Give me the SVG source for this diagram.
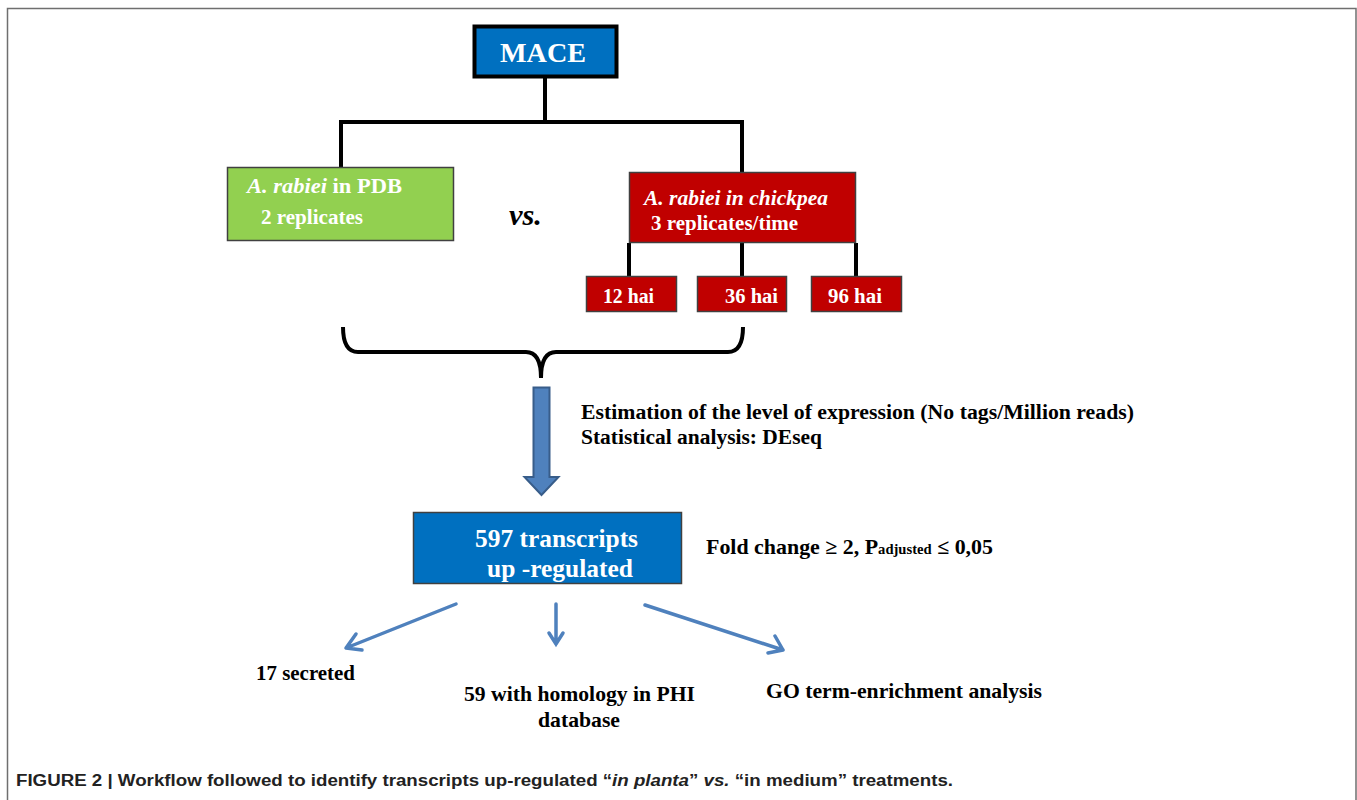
<svg xmlns="http://www.w3.org/2000/svg" width="1357" height="800" viewBox="0 0 1357 800">
<style>
.t{font-family:"Liberation Serif","Times New Roman",serif;font-weight:bold;}
.w{fill:#fff;}
.k{fill:#000;}
.blk{stroke:#000;stroke-width:4;fill:none;}
.blue-ln{stroke:#4F81BD;stroke-width:3.5;fill:none;stroke-linecap:round;}
.cap{font-family:"Liberation Sans",Arial,sans-serif;font-weight:bold;font-size:16px;fill:#222;}
</style>
<rect width="1357" height="800" fill="#fff"/>
<path d="M7.5,800 V8.5 H1356 V800" fill="none" stroke="#6f6f6f" stroke-width="1.5"/>

<g id="connectors">
  <path class="blk" d="M545,77 V122 M341,122 H742 M341,120 V168 M742,120 V172"/>
  <path class="blk" d="M629,243 V276 M742,243 V276 M856,243 V276"/>
  <path class="blk" d="M343,327 Q343,352 358,352 H526 Q541,352 541,378 Q541,352 556,352 H728 Q743,352 743,327"/>
  <path d="M533.5,387.5 H549.5 V477 H558.5 L541.5,495 L524.5,477 H533.5 Z" fill="#4F81BD" stroke="#385D8A" stroke-width="2"/>
  <path class="blue-ln" d="M456,604 L346,648 M346,648 L356,634 M346,648 L362,650"/>
  <path class="blue-ln" d="M556,604 V644 M549,633 L556,644 L563,633"/>
  <path class="blue-ln" d="M645,605 L783,650 M783,650 L775,636 M783,650 L768,653"/>
</g>

<g id="mace">
  <rect x="474.5" y="26.5" width="142" height="50" fill="#0070C0" stroke="#000" stroke-width="4"/>
  <text class="t w" x="543" y="62" font-size="28" text-anchor="middle" textLength="86" lengthAdjust="spacingAndGlyphs">MACE</text>
</g>

<g id="pdb">
  <rect x="227.5" y="167.5" width="226" height="73" fill="#92D050" stroke="#404040" stroke-width="1.5"/>
  <text class="t w" x="247" y="193" font-size="20" textLength="155" lengthAdjust="spacingAndGlyphs"><tspan font-style="italic">A. rabiei</tspan>  in PDB</text>
  <text class="t w" x="261" y="224" font-size="20" textLength="102" lengthAdjust="spacingAndGlyphs">2 replicates</text>
</g>

<text class="t k" x="509" y="225" font-size="30" font-style="italic" textLength="33" lengthAdjust="spacingAndGlyphs">vs.</text>

<g id="chickpea">
  <rect x="629.5" y="172.5" width="226" height="70" fill="#C00000" stroke="#404040" stroke-width="1.5"/>
  <text class="t w" x="644" y="205" font-size="20" font-style="italic" textLength="184" lengthAdjust="spacingAndGlyphs">A. rabiei in chickpea</text>
  <text class="t w" x="651" y="230" font-size="20" textLength="147" lengthAdjust="spacingAndGlyphs">3 replicates/time</text>
</g>

<g id="h12">
  <rect x="586.5" y="276.5" width="90" height="35" fill="#C00000" stroke="#404040" stroke-width="1.5"/>
  <text class="t w" x="603" y="303" font-size="20" textLength="51" lengthAdjust="spacingAndGlyphs">12 hai</text>
</g>
<g id="h36">
  <rect x="697.5" y="276.5" width="89" height="35" fill="#C00000" stroke="#404040" stroke-width="1.5"/>
  <text class="t w" x="725" y="303" font-size="20" textLength="53" lengthAdjust="spacingAndGlyphs">36 hai</text>
</g>
<g id="h96">
  <rect x="811.5" y="276.5" width="90" height="35" fill="#C00000" stroke="#404040" stroke-width="1.5"/>
  <text class="t w" x="828" y="303" font-size="20" textLength="54" lengthAdjust="spacingAndGlyphs">96 hai</text>
</g>

<g id="estimation">
  <text class="t k" x="581" y="419" font-size="20" textLength="553" lengthAdjust="spacingAndGlyphs">Estimation  of the level  of expression (No tags/Million  reads)</text>
  <text class="t k" x="581" y="444" font-size="20" textLength="241" lengthAdjust="spacingAndGlyphs">Statistical  analysis: DEseq</text>
</g>

<g id="transcripts">
  <rect x="413.5" y="512.5" width="268" height="71" fill="#0070C0" stroke="#404040" stroke-width="1.5"/>
  <text class="t w" x="475" y="547" font-size="25" textLength="163" lengthAdjust="spacingAndGlyphs">597 transcripts</text>
  <text class="t w" x="487" y="577" font-size="25" textLength="146" lengthAdjust="spacingAndGlyphs">up -regulated</text>
</g>

<text class="t k" x="706" y="554" font-size="21" textLength="287" lengthAdjust="spacingAndGlyphs">Fold change ≥ 2, P<tspan font-size="14">adjusted</tspan> ≤ 0,05</text>

<g id="secreted">
  <text class="t k" x="256" y="680" font-size="21" textLength="99" lengthAdjust="spacingAndGlyphs">17 secreted</text>
</g>
<g id="phi">
  <text class="t k" x="464" y="701" font-size="21" textLength="231" lengthAdjust="spacingAndGlyphs">59 with homology in PHI</text>
  <text class="t k" x="538" y="727" font-size="21" textLength="82" lengthAdjust="spacingAndGlyphs">database</text>
</g>
<g id="go">
  <text class="t k" x="766" y="698" font-size="21" textLength="276" lengthAdjust="spacingAndGlyphs">GO term-enrichment  analysis</text>
</g>

<text class="cap" x="16" y="786" textLength="937" lengthAdjust="spacingAndGlyphs">FIGURE 2 | Workflow followed to identify transcripts up-regulated “<tspan font-style="italic">in planta</tspan>” <tspan font-style="italic">vs.</tspan> “in medium” treatments.</text>
</svg>
